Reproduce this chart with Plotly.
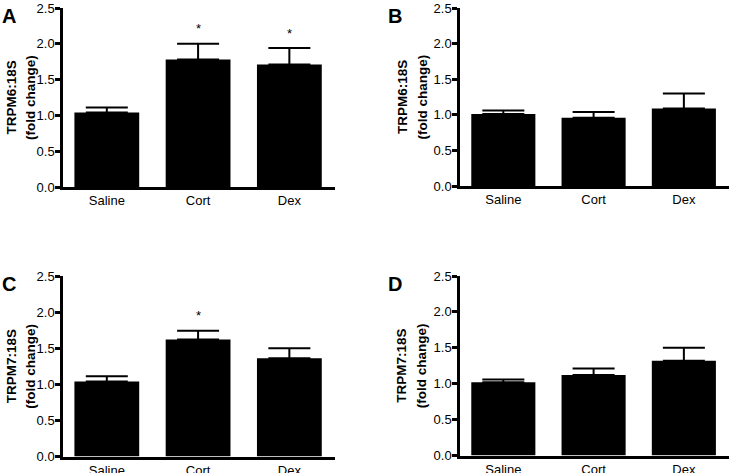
import plotly.graph_objects as go

categories = ["Saline", "Cort", "Dex"]

panel_letters = ["A", "B", "C", "D"]
y_titles = ["TRPM6:18S", "TRPM6:18S", "TRPM7:18S", "TRPM7:18S"]

mean_A = [1.04, 1.78, 1.71]
sem_A = [0.07, 0.22, 0.23]
mean_B = [1.01, 0.96, 1.09]
sem_B = [0.05, 0.08, 0.21]
mean_C = [1.04, 1.62, 1.36]
sem_C = [0.07, 0.12, 0.14]
mean_D = [1.02, 1.12, 1.32]
sem_D = [0.04, 0.09, 0.18]

sig_A = [False, True, True]
sig_B = [False, False, False]
sig_C = [False, True, False]
sig_D = [False, False, False]

y_ticks = [0.0, 0.5, 1.0, 1.5, 2.0, 2.5]
y_tick_text = ["0.0", "0.5", "1.0", "1.5", "2.0", "2.5"]

means = [mean_A, mean_B, mean_C, mean_D]
sems = [sem_A, sem_B, sem_C, sem_D]
sigs = [sig_A, sig_B, sig_C, sig_D]

W, H = 730, 473
FONT = "Arial, Liberation Sans, Helvetica, sans-serif"

# pixel boxes: (left, right, top, bottom)
boxes = [
    (63, 335, 8, 187),
    (460, 729, 8, 186),
    (63, 335, 276, 456.5),
    (460, 729, 276, 455.5),
]

fig = go.Figure()
layout = dict(
    width=W, height=H,
    margin=dict(l=0, r=0, t=0, b=0, autoexpand=False),
    paper_bgcolor="white", plot_bgcolor="white",
    showlegend=False,
    font=dict(family=FONT, size=13, color="black"),
    annotations=[],
)

for i in range(4):
    n = "" if i == 0 else str(i + 1)
    l, r, t, b = boxes[i]
    fig.add_trace(go.Bar(
        x=categories, y=means[i],
        marker=dict(color="black", line=dict(width=0)),
        width=0.71,
        error_y=dict(type="data", array=sems[i], arrayminus=[0] * 3, symmetric=False,
                     color="black", thickness=2, width=21),
        xaxis="x" + n, yaxis="y" + n,
    ))
    layout["xaxis" + n] = dict(
        domain=[l / W, r / W], anchor="y" + n, automargin=False,
        range=[-0.48, 2.5], showline=True, linecolor="black", linewidth=2.5,
        ticks="", showgrid=False, zeroline=False,
        tickfont=dict(family=FONT, size=13, color="black"),
        fixedrange=True,
    )
    layout["yaxis" + n] = dict(
        domain=[1 - b / H, 1 - t / H], anchor="x" + n, automargin=False,
        range=[0, 2.5], showline=True, linecolor="black", linewidth=2.5,
        ticks="outside", ticklen=5, tickwidth=2.5, tickcolor="black",
        ticklabelstandoff=-2,
        tickvals=y_ticks, ticktext=y_tick_text,
        showgrid=False, zeroline=False,
        tickfont=dict(family=FONT, size=13, color="black"),
        fixedrange=True,
    )
    # significance stars
    for j, s in enumerate(sigs[i]):
        if s:
            layout["annotations"].append(dict(
                x=categories[j], y=means[i][j] + sems[i][j] + 0.21,
                xref="x" + n, yref="y" + n, text="*", showarrow=False,
                font=dict(family=FONT, size=13, color="black"),
                xanchor="center", yanchor="middle",
            ))
    # panel letter
    layout["annotations"].append(dict(
        x=(l - 54 if i % 2 == 0 else l - 65) / W, y=1 - (t + 7.5) / H,
        xref="paper", yref="paper", text="<b>" + panel_letters[i] + "</b>",
        showarrow=False, font=dict(family=FONT, size=20, color="black"),
        xanchor="center", yanchor="middle",
    ))
    # y-axis titles (two lines)
    cy = 1 - ((t + b) / 2) / H
    x1 = (11 if i % 2 == 0 else 402) / W
    x2 = (30.5 if i % 2 == 0 else 421.5) / W
    layout["annotations"].append(dict(
        x=x1, y=cy, xref="paper", yref="paper", text="<b>" + y_titles[i] + "</b>",
        textangle=-90, showarrow=False,
        font=dict(family=FONT, size=13.5, color="black"),
        xanchor="center", yanchor="middle",
    ))
    layout["annotations"].append(dict(
        x=x2, y=cy, xref="paper", yref="paper", text="<b>(fold change)</b>",
        textangle=-90, showarrow=False,
        font=dict(family=FONT, size=13.5, color="black"),
        xanchor="center", yanchor="middle",
    ))

fig.update_layout(**layout)
fig.write_html("out.html", config={"displayModeBar": False},
               post_script="document.body.style.margin='0';document.body.style.overflow='hidden';")
